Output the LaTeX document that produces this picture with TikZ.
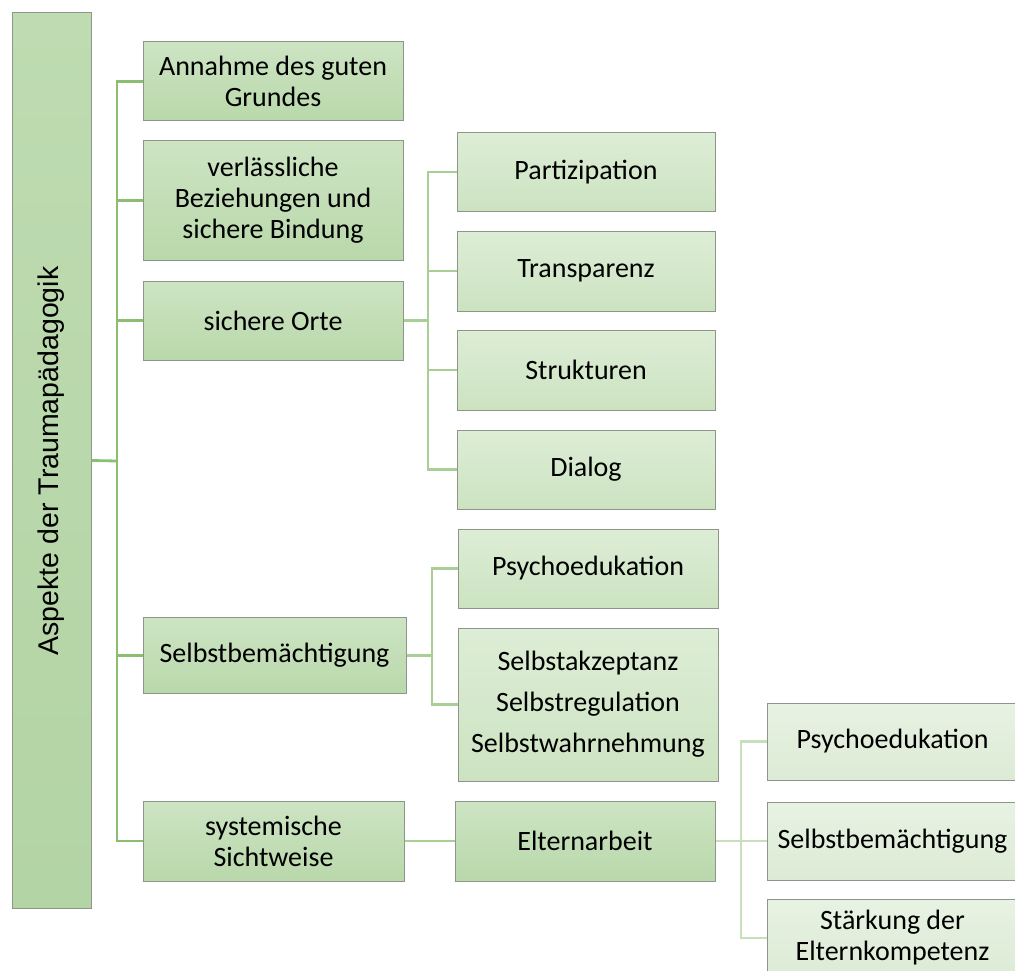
\documentclass[tikz,border=0pt]{standalone}
\usepackage{fontspec}
\setmainfont{Carlito}
\newfontfamily\rootfont{Liberation Sans}
\definecolor{lineA}{HTML}{8CBE72}
\definecolor{lineB}{HTML}{A9CF97}
\definecolor{lineC}{HTML}{C7E0BB}
\definecolor{bordr}{HTML}{8E968A}
\begin{document}
\begin{tikzpicture}[x=1pt,y=-1pt,
  box/.style={draw=bordr,line width=1pt,inner sep=0pt,align=center,
    font=\fontsize{28}{31}\selectfont},
  lvA/.style={box,top color=lvAtop,bottom color=lvAbot},
  rootbox/.style={box,top color=rootTop,bottom color=rootBot},
  lvB/.style={box,top color=lvBtop,bottom color=lvBbot},
  lvC/.style={box,top color=lvCtop,bottom color=lvCbot},
  conA/.style={draw=lineA,line width=2.8pt},
  conB/.style={draw=lineB,line width=2.8pt},
  conC/.style={draw=lineC,line width=2.8pt}]
\definecolor{rootTop}{HTML}{BEDBB1}
\definecolor{rootBot}{HTML}{B3D4A4}
\definecolor{lvAtop}{HTML}{CDE4C3}
\definecolor{lvAbot}{HTML}{B9D8AB}
\definecolor{lvBtop}{HTML}{DDEDD6}
\definecolor{lvBbot}{HTML}{CCE3C1}
\definecolor{lvCtop}{HTML}{E8F2E3}
\definecolor{lvCbot}{HTML}{DCEBD5}
\useasboundingbox (0,0) rectangle (1015,971);
% root
\node[rootbox,minimum width=79pt,minimum height=895pt] (root) at (51.5,460.5) {};
\node[rotate=90,font=\rootfont\fontsize{28.5}{32}\selectfont] (roottext) at (51.5,461) {Aspekte der Traumapädagogik};
% level 1
\node[lvA,minimum width=260pt,minimum height=79pt] (a1) at (273,81.5) {Annahme des guten\\Grundes};
\node[lvA,minimum width=260pt,minimum height=119pt] (a2) at (273,200.5) {verlässliche\\Beziehungen und\\sichere Bindung};
\node[lvA,minimum width=260pt,minimum height=79pt] (a3) at (273,320.5) {sichere Orte};
\node[lvA,minimum width=263pt,minimum height=76pt] (a4) at (274.5,655.5) {Selbstbemächtigung};
\node[lvA,minimum width=261pt,minimum height=80pt] (a5) at (273.5,841) {systemische\\Sichtweise};
% level 2 (sichere Orte)
\node[lvB,minimum width=258pt,minimum height=78pt] (b1) at (586,172) {Partizipation};
\node[lvB,minimum width=258pt,minimum height=80pt] (b2) at (586,271) {Transparenz};
\node[lvB,minimum width=258pt,minimum height=80pt] (b3) at (586,370) {Strukturen};
\node[lvB,minimum width=258pt,minimum height=79pt] (b4) at (586,469.5) {Dialog};
% level 2 (Selbstbemächtigung)
\node[lvB,minimum width=260pt,minimum height=79pt] (c1) at (588,568.5) {Psychoedukation};
\node[lvB,minimum width=260pt,minimum height=153pt,font=\fontsize{28}{41}\selectfont] (c2) at (588,704.5) {Selbstakzeptanz\\Selbstregulation\\Selbstwahrnehmung};
% level 2 (systemische Sichtweise)
\node[lvA,minimum width=260pt,minimum height=80pt] (d1) at (585,841) {Elternarbeit};
% level 3
\node[lvC,minimum width=251pt,minimum height=77pt] (e1) at (892.5,741.5) {Psychoedukation};
\node[lvC,minimum width=251pt,minimum height=78pt] (e2) at (892.5,841) {Selbstbemächtigung};
\node[lvC,minimum width=251pt,minimum height=78pt] (e3) at (892.5,938) {Stärkung der\\Elternkompetenz};
% connectors
\coordinate (tA) at (117,461);
\draw[conA] (root.east) -- (tA);
\foreach \n in {a1,a2,a3,a4,a5} \draw[conA] (tA) |- (\n.west);
\coordinate (tB) at (428,320.5);
\draw[conB] (a3.east) -- (tB);
\foreach \n in {b1,b2,b3,b4} \draw[conB] (tB) |- (\n.west);
\coordinate (tC) at (432,655.5);
\draw[conB] (a4.east) -- (tC);
\foreach \n in {c1,c2} \draw[conB] (tC) |- (\n.west);
\draw[conB] (a5.east) -- (d1.west);
\coordinate (tE) at (741,841);
\draw[conC] (d1.east) -- (tE);
\foreach \n in {e1,e2,e3} \draw[conC] (tE) |- (\n.west);
\end{tikzpicture}
\end{document}
